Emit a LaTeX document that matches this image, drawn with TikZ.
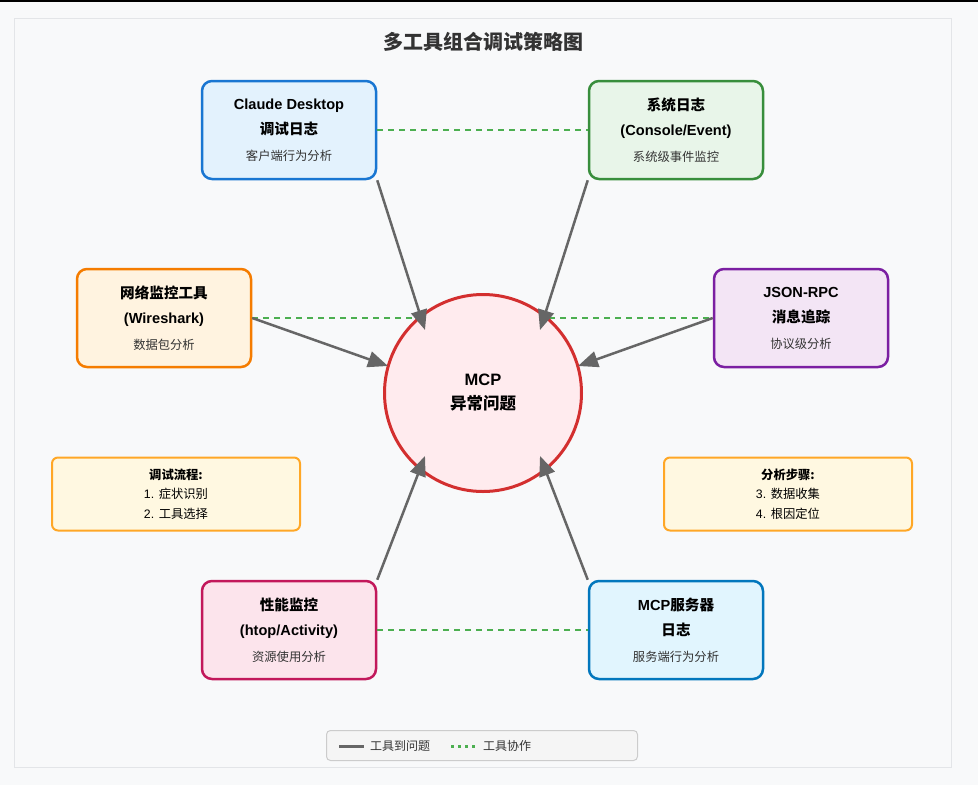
\documentclass[tikz,border=0pt]{standalone}
\usepackage{fontspec}
\setmainfont{Liberation Sans}
\newfontfamily\zhfont{Noto Sans CJK SC}
\usepackage{xcolor}
\usetikzlibrary{positioning,arrows.meta,calc}

\definecolor{pagebg}{HTML}{F8F9FA}
\definecolor{panelrule}{HTML}{E3E5E8}
\definecolor{titlegray}{HTML}{333333}
\definecolor{arrowgray}{HTML}{666666}
\definecolor{teamgreen}{HTML}{4CAF50}
\definecolor{claudeblue}{HTML}{1976D2}
\definecolor{claudefill}{HTML}{E3F2FD}
\definecolor{sysgreen}{HTML}{388E3C}
\definecolor{sysfill}{HTML}{E8F5E9}
\definecolor{netorange}{HTML}{F57C00}
\definecolor{netfill}{HTML}{FFF3E0}
\definecolor{rpcpurple}{HTML}{7B1FA2}
\definecolor{rpcfill}{HTML}{F3E5F5}
\definecolor{perfpink}{HTML}{C2185B}
\definecolor{perffill}{HTML}{FCE4EC}
\definecolor{srvblue}{HTML}{0277BD}
\definecolor{srvfill}{HTML}{E1F5FE}
\definecolor{issuered}{HTML}{D32F2F}
\definecolor{issuefill}{HTML}{FFEBEE}
\definecolor{noteamber}{HTML}{FFA726}
\definecolor{notefill}{HTML}{FFF8E1}
\definecolor{legendfill}{HTML}{F5F5F5}
\definecolor{legendrule}{HTML}{CCCCCC}

\newcommand{\zh}[1]{{\zhfont #1}}
\newcommand{\subline}[1]{{\mdseries\fontsize{12.3}{14}\selectfont\color{titlegray}\zh{#1}}}

\begin{document}
\begin{tikzpicture}[x=1pt, y=-1pt, >={Triangle[length=20pt,width=16pt]},
  toolbox/.style={draw, rounded corners=10pt, line width=2.5pt, minimum width=174pt,
    minimum height=98pt, inner sep=0pt, align=center,
    font=\fontsize{14.6}{25.5}\selectfont\bfseries},
  notebox/.style={draw=noteamber, fill=notefill, rounded corners=6pt, line width=2pt,
    minimum width=248pt, minimum height=73pt, inner sep=0pt, align=center,
    font=\fontsize{12.3}{19.5}\selectfont},
  toolarrow/.style={->, draw=arrowgray, line width=2.5pt},
  teamline/.style={draw=teamgreen, line width=2.5pt, dash pattern=on 6pt off 5pt},
  legendtext/.style={anchor=west, inner sep=0pt, text=titlegray,
    font=\fontsize{12}{14}\selectfont\zhfont}]

  \fill[pagebg] (0,0) rectangle (978,785);
  \fill[black] (0,0) rectangle (978,1.5);
  \draw[panelrule, fill=pagebg, line width=1pt] (14,18) rectangle (951,767);

  \node[text=titlegray, font=\fontsize{20}{24}\selectfont\bfseries\zhfont] (title) at (483,42) {多工具组合调试策略图};

  \node[toolbox, draw=claudeblue, fill=claudefill] (claude) at (289,130)
       {Claude Desktop\\\zh{调试日志}\\\subline{客户端行为分析}};
  \node[toolbox, draw=sysgreen, fill=sysfill] (syslog) at (676,130)
       {\zh{系统日志}\\(Console/Event)\\\subline{系统级事件监控}};
  \node[toolbox, draw=netorange, fill=netfill] (netmon) at (164,318)
       {\zh{网络监控工具}\\(Wireshark)\\\subline{数据包分析}};
  \node[toolbox, draw=rpcpurple, fill=rpcfill] (jsonrpc) at (801,318)
       {JSON-RPC\\\zh{消息追踪}\\\subline{协议级分析}};
  \node[toolbox, draw=perfpink, fill=perffill] (perfmon) at (289,630)
       {\zh{性能监控}\\(htop/Activity)\\\subline{资源使用分析}};
  \node[toolbox, draw=srvblue, fill=srvfill] (srvlog) at (676,630)
       {MCP\zh{服务器}\\\zh{日志}\\\subline{服务端行为分析}};

  \draw[teamline] (claude.east) -- (syslog.west);
  \draw[teamline] (netmon.east) -- (jsonrpc.west);
  \draw[teamline] (perfmon.east) -- (srvlog.west);

  \node[circle, draw=issuered, fill=issuefill, line width=3pt, minimum size=197pt,
        align=center, font=\fontsize{16.5}{24}\selectfont\bfseries] (mcp) at (483,393)
       {MCP\\\zh{异常问题}};

  \coordinate (tipA) at ($(mcp.center)+(-58,-63)$);
  \coordinate (tipB) at ($(mcp.center)+(57,-63)$);
  \coordinate (tipC) at ($(mcp.center)+(-95,-27)$);
  \coordinate (tipD) at ($(mcp.center)+(95,-27)$);
  \coordinate (tipE) at ($(mcp.center)+(-58,63)$);
  \coordinate (tipF) at ($(mcp.center)+(57,63)$);

  \draw[toolarrow] (claude.south east) -- (tipA);
  \draw[toolarrow] (syslog.south west) -- (tipB);
  \draw[toolarrow] (netmon.east) -- (tipC);
  \draw[toolarrow] (jsonrpc.west) -- (tipD);
  \draw[toolarrow] (perfmon.north east) -- (tipE);
  \draw[toolarrow] (srvlog.north west) -- (tipF);

  \node[notebox] (flownote) at (176,494)
       {\bfseries\zh{调试流程:}\\1. \zh{症状识别}\\2. \zh{工具选择}};
  \node[notebox] (stepnote) at (788,494)
       {\bfseries\zh{分析步骤:}\\3. \zh{数据收集}\\4. \zh{根因定位}};

  \node[draw=legendrule, fill=legendfill, rounded corners=4pt, line width=1pt,
        minimum width=311pt, minimum height=30pt] (legend) at (482,745.5) {};
  \coordinate (lgSolidA) at (339,746);
  \coordinate (lgSolidB) at (364,746);
  \coordinate (lgDotA) at (451,746);
  \coordinate (lgDotB) at (477,746);
  \draw[arrowgray, line width=3pt] (lgSolidA) -- (lgSolidB);
  \draw[teamgreen, line width=3pt, dash pattern=on 3pt off 4pt] (lgDotA) -- (lgDotB);
  \node[legendtext] (lgSolidText) at (370,746) {工具到问题};
  \node[legendtext] (lgDotText) at (483,746) {工具协作};
\end{tikzpicture}
\end{document}
